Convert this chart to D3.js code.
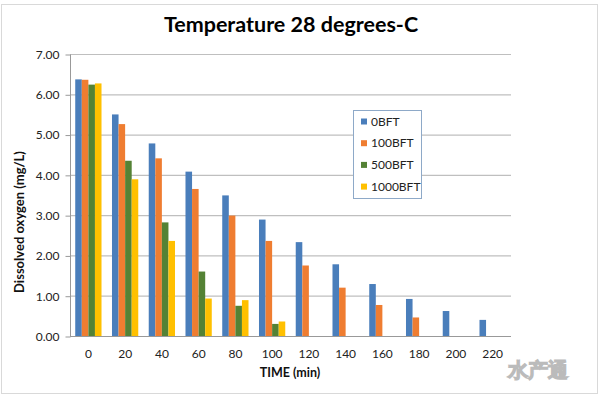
<!DOCTYPE html>
<html><head><meta charset="utf-8">
<script src="https://cdn.jsdelivr.net/npm/d3@7"></script>
<style>body{margin:0;background:#fff}svg{display:block}text{font-family:Lato,"Open Sans",sans-serif}</style>
</head><body><svg id="c" width="600" height="396"></svg>
<script>
const categories = ["0","20","40","60","80","100","120","140","160","180","200","220"];
const seriesNames = ["0BFT","100BFT","500BFT","1000BFT"];
const s0BFT    = [6.37,5.50,4.78,4.08,3.49,2.89,2.33,1.78,1.29,0.92,0.62,0.40];
const s100BFT  = [6.36,5.26,4.41,3.65,2.99,2.36,1.75,1.20,0.77,0.46,null,null];
const s500BFT  = [6.24,4.35,2.82,1.60,0.75,0.30,null,null,null,null,null,null];
const s1000BFT = [6.27,3.89,2.36,0.93,0.89,0.36,null,null,null,null,null,null];
const yTicks = [0,1,2,3,4,5,6,7];
const colors = ["#4a7ebb","#ef7d31","#548235","#ffc000"];
const seriesValues = [s0BFT,s100BFT,s500BFT,s1000BFT];

const svg = d3.select("#c");
const L=70,R=511,T=54,B=336;
svg.append("rect").attr("x",1.5).attr("y",4.5).attr("width",596).attr("height",389).attr("fill","none").attr("stroke","#d9d9d9");

const x = d3.scaleBand().domain(categories).range([L,R]).paddingInner(0.285).paddingOuter(0.1425);
const xs = d3.scaleBand().domain(seriesNames).range([0,x.bandwidth()]);
const y = d3.scaleLinear().domain([0,7]).range([B,T]);

svg.append("g").selectAll("line").data(yTicks.filter(d=>d>0)).join("line")
  .attr("x1",L).attr("x2",R).attr("y1",d=>y(d)+0.5).attr("y2",d=>y(d)+0.5)
  .attr("stroke","#bfbfbf").attr("stroke-width",1.2);

seriesValues.forEach((vals,si)=>{
  svg.append("g").selectAll("rect").data(vals.map((v,i)=>({c:categories[i],v})).filter(d=>d.v!=null)).join("rect")
    .attr("x",d=>x(d.c)+xs(seriesNames[si])).attr("width",xs.bandwidth())
    .attr("y",d=>y(d.v)).attr("height",d=>B-y(d.v)).attr("fill",colors[si]);
});

const ya = d3.axisLeft(y).tickValues(yTicks).tickFormat(d3.format(".2f")).tickSize(5).tickPadding(6);
const gy = svg.append("g").attr("transform",`translate(${L+0.5},0.5)`).call(ya);
gy.select(".domain").attr("stroke","#999").attr("d",`M0,${T}V${B}`);
gy.selectAll(".tick line").attr("stroke","#999");
gy.selectAll("text").attr("font-size",12).attr("fill","#222").attr("font-family","Lato,sans-serif");

const xa = d3.axisBottom(x).tickSize(0).tickPadding(13);
const gx = svg.append("g").attr("transform",`translate(0,${B+0.5})`).call(xa);
gx.select(".domain").attr("stroke","#999").attr("d",`M${L},0H${R}`);
gx.selectAll("text").attr("font-size",12).attr("fill","#222").attr("font-family","Lato,sans-serif");

svg.append("text").attr("x",291).attr("y",32).attr("text-anchor","middle").attr("font-size",21.5).attr("font-weight","bold").attr("fill","#000").text("Temperature 28 degrees-C");
svg.append("text").attr("x",290).attr("y",377).attr("text-anchor","middle").attr("font-size",12.5).attr("font-weight","bold").attr("fill","#111").text("TIME (min)");
svg.append("text").attr("transform","translate(24,222) rotate(-90)").attr("text-anchor","middle").attr("font-size",13).attr("font-weight","bold").attr("fill","#111").text("Dissolved oxygen (mg/L)");

const lg = svg.append("g");
lg.append("rect").attr("x",353.5).attr("y",110.5).attr("width",68).attr("height",88).attr("fill","#fff").attr("stroke","#8ea9c8");
seriesNames.forEach((n,i)=>{
  const yy = 121.5 + i*21.7;
  lg.append("rect").attr("x",361).attr("y",yy-3).attr("width",6).attr("height",6).attr("fill",colors[i]);
  lg.append("text").attr("x",371).attr("y",yy+4).attr("font-size",12).attr("fill","#222").text(n);
});

svg.append("text").attr("x",508).attr("y",377).attr("font-size",20).attr("font-weight","bold")
  .attr("fill","#fff").attr("stroke","#bbb").attr("stroke-width",1.2).attr("font-family","Noto Sans CJK SC").text("水产通");
</script></body></html>
